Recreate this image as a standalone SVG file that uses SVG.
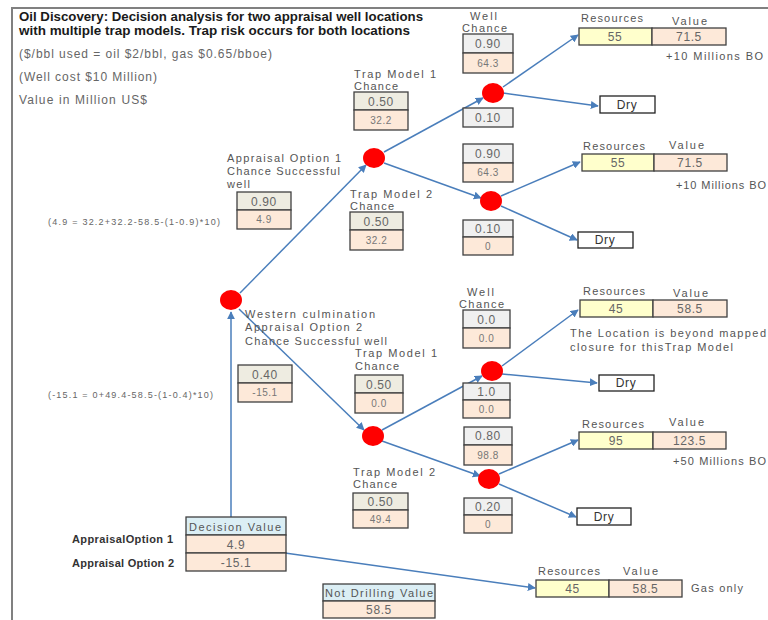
<svg xmlns="http://www.w3.org/2000/svg" width="768" height="620" viewBox="0 0 768 620">
<defs>
<marker id="ah" viewBox="0 0 10 10" refX="9" refY="5" markerWidth="8" markerHeight="8" markerUnits="userSpaceOnUse" orient="auto">
<path d="M0,0 L10,5 L0,10 z" fill="#4a7ebb"/>
</marker>
<style>
text{font-family:"Liberation Sans",Arial,sans-serif;}
.title{font-size:12px;font-weight:bold;fill:#1a1a1a;}
.sub{font-size:12px;fill:#666;}
.lbl{font-size:11px;fill:#555;}
.num{font-size:12px;fill:#666;text-anchor:middle;letter-spacing:0.6px;}
.sm{font-size:10px;fill:#777;text-anchor:middle;letter-spacing:0.5px;}
.fm{font-size:9px;fill:#666;}
.bl{font-size:11px;font-weight:bold;fill:#333;}
.g{fill:#eeece1;stroke:#404040;stroke-width:1.3;}
.w{fill:#f0f0f0;stroke:#404040;stroke-width:1.3;}
.p{fill:#fde9d9;stroke:#404040;stroke-width:1.3;}
.y{fill:#ffffcc;stroke:#404040;stroke-width:1.3;}
.b{fill:#dbeef4;stroke:#404040;stroke-width:1.3;}
.d{fill:#fff;stroke:#222;stroke-width:1.3;}
.node{fill:#ff0000;}
.c line{stroke:#4a7ebb;stroke-width:1.5;marker-end:url(#ah);}
</style>
</defs>
<rect width="768" height="620" fill="#fff"/>
<path d="M12,620 V8 H768" fill="none" stroke="#808080" stroke-width="2"/>

<g id="title">
<text class="title" x="19" y="21" textLength="404" lengthAdjust="spacingAndGlyphs">Oil Discovery: Decision analysis for two appraisal well locations</text>
<text class="title" x="19" y="35" textLength="391" lengthAdjust="spacingAndGlyphs">with multiple trap models. Trap risk occurs for both locations</text>
<text class="sub" x="19" y="58" textLength="253">($/bbl used = oil $2/bbl, gas $0.65/bboe)</text>
<text class="sub" x="19" y="81" textLength="138">(Well cost $10 Million)</text>
<text class="sub" x="19" y="104" textLength="128">Value in Million US$</text>
</g>

<g class="c" id="connectors">
<line x1="231" y1="517" x2="231" y2="312"/>
<line x1="240" y1="293" x2="366" y2="165"/>
<line x1="239" y1="309" x2="364" y2="430"/>
<line x1="384" y1="152" x2="483" y2="98"/>
<line x1="384" y1="163" x2="481" y2="198"/>
<line x1="503" y1="87" x2="578" y2="35"/>
<line x1="503" y1="93" x2="598" y2="106"/>
<line x1="501" y1="196" x2="580" y2="162"/>
<line x1="501" y1="206" x2="577" y2="240"/>
<line x1="382" y1="430" x2="482" y2="376"/>
<line x1="382" y1="441" x2="480" y2="476"/>
<line x1="502" y1="366" x2="578" y2="310"/>
<line x1="502" y1="374" x2="597" y2="383"/>
<line x1="499" y1="474" x2="578" y2="440"/>
<line x1="499" y1="484" x2="576" y2="517"/>
<line x1="285" y1="553" x2="535" y2="588"/>
</g>

<g id="root"><ellipse class="node" cx="231" cy="300" rx="11" ry="10"/></g>
<g id="opt1"><ellipse class="node" cx="374" cy="158" rx="11" ry="10"/></g>
<g id="opt1-tm1"><ellipse class="node" cx="493" cy="93" rx="11" ry="10"/></g>
<g id="opt1-tm2"><ellipse class="node" cx="491" cy="201" rx="11" ry="10"/></g>
<g id="opt2"><ellipse class="node" cx="373" cy="436" rx="11" ry="10"/></g>
<g id="opt2-tm1"><ellipse class="node" cx="492" cy="371" rx="11" ry="10"/></g>
<g id="opt2-tm2"><ellipse class="node" cx="489" cy="479" rx="11" ry="10"/></g>

<g id="appraisal1">
<text class="lbl" x="227" y="162" textLength="114">Appraisal Option 1</text>
<text class="lbl" x="227" y="175" textLength="113">Chance Successful</text>
<text class="lbl" x="227" y="188" textLength="23">well</text>
<rect class="g" x="237" y="192" width="54" height="18"/>
<rect class="p" x="237" y="210" width="54" height="19"/>
<text class="num" x="264" y="206">0.90</text>
<text class="sm" x="264" y="223">4.9</text>
<text class="fm" x="48" y="225" textLength="172">(4.9 = 32.2+32.2-58.5-(1-0.9)*10)</text>
</g>
<g id="tm1-a">
<text class="lbl" x="354" y="78" textLength="82">Trap Model 1</text>
<text class="lbl" x="354" y="90" textLength="44">Chance</text>
<rect class="g" x="354" y="92" width="54" height="18"/>
<rect class="p" x="354" y="110" width="54" height="20"/>
<text class="num" x="381" y="106">0.50</text>
<text class="sm" x="381" y="124">32.2</text>
</g>
<g id="tm2-a">
<text class="lbl" x="350" y="198" textLength="82">Trap Model 2</text>
<text class="lbl" x="350" y="210" textLength="44">Chance</text>
<rect class="g" x="350" y="212" width="53" height="18"/>
<rect class="p" x="350" y="230" width="53" height="20"/>
<text class="num" x="376.5" y="226">0.50</text>
<text class="sm" x="376.5" y="244">32.2</text>
</g>
<g id="wc1">
<text class="lbl" x="470" y="20" textLength="27">Well</text>
<text class="lbl" x="462" y="32" textLength="45">Chance</text>
<rect class="w" x="463" y="34" width="50" height="19"/>
<rect class="p" x="463" y="53" width="50" height="20"/>
<text class="num" x="488" y="48">0.90</text>
<text class="sm" x="488" y="67">64.3</text>
</g>
<g id="wc1-dry"><rect class="w" x="463" y="108" width="50" height="19"/><text class="num" x="488" y="122">0.10</text></g>
<g id="res1">
<text class="lbl" x="581" y="22" textLength="62">Resources</text>
<text class="lbl" x="672" y="25" textLength="35">Value</text>
<rect class="y" x="579" y="28" width="73" height="17"/>
<rect class="p" x="652" y="28" width="74" height="17"/>
<text class="num" x="615" y="41">55</text>
<text class="num" x="689" y="41">71.5</text>
<text class="lbl" x="666" y="60" textLength="97">+10 Millions BO</text>
</g>
<g id="dry1"><rect class="d" x="600" y="96" width="55" height="17"/><text class="num" x="627" y="109" style="fill:#333">Dry</text></g>
<g id="wc2">
<rect class="w" x="463" y="144" width="50" height="19"/>
<rect class="p" x="463" y="163" width="50" height="19"/>
<text class="num" x="488" y="158">0.90</text>
<text class="sm" x="488" y="176">64.3</text>
</g>
<g id="wc2-dry">
<rect class="w" x="463" y="220" width="50" height="17"/>
<rect class="p" x="463" y="237" width="50" height="18"/>
<text class="num" x="488" y="233">0.10</text>
<text class="sm" x="488" y="250">0</text>
</g>
<g id="res2">
<text class="lbl" x="583" y="150" textLength="62">Resources</text>
<text class="lbl" x="669" y="149" textLength="35">Value</text>
<rect class="y" x="582" y="154" width="72" height="17"/>
<rect class="p" x="654" y="154" width="73" height="17"/>
<text class="num" x="618" y="167">55</text>
<text class="num" x="690" y="167">71.5</text>
<text class="lbl" x="676" y="189" textLength="90">+10 Millions BO</text>
</g>
<g id="dry2"><rect class="d" x="578" y="232" width="55" height="16"/><text class="num" x="605" y="244" style="fill:#333">Dry</text></g>

<g id="appraisal2">
<text class="lbl" x="245" y="318" textLength="130">Western culmination</text>
<text class="lbl" x="245" y="331" textLength="117">Appraisal Option 2</text>
<text class="lbl" x="245" y="345" textLength="142">Chance Successful well</text>
<rect class="g" x="238" y="365" width="54" height="18"/>
<rect class="p" x="238" y="383" width="54" height="19"/>
<text class="num" x="265" y="379">0.40</text>
<text class="sm" x="265" y="396">-15.1</text>
<text class="fm" x="48" y="398" textLength="165">(-15.1 = 0+49.4-58.5-(1-0.4)*10)</text>
</g>
<g id="tm1-b">
<text class="lbl" x="355" y="357" textLength="82">Trap Model 1</text>
<text class="lbl" x="355" y="370" textLength="44">Chance</text>
<rect class="g" x="355" y="375" width="48" height="18"/>
<rect class="p" x="355" y="393" width="48" height="20"/>
<text class="num" x="379" y="389">0.50</text>
<text class="sm" x="379" y="407">0.0</text>
</g>
<g id="tm2-b">
<text class="lbl" x="353" y="476" textLength="82">Trap Model 2</text>
<text class="lbl" x="353" y="488" textLength="44">Chance</text>
<rect class="g" x="353" y="493" width="55" height="17"/>
<rect class="p" x="353" y="510" width="55" height="18"/>
<text class="num" x="380.5" y="506">0.50</text>
<text class="sm" x="380.5" y="523">49.4</text>
</g>
<g id="wc3">
<text class="lbl" x="467" y="296" textLength="27">Well</text>
<text class="lbl" x="459" y="308" textLength="45">Chance</text>
<rect class="w" x="463" y="310" width="47" height="18"/>
<rect class="p" x="463" y="328" width="47" height="20"/>
<text class="num" x="486.5" y="324">0.0</text>
<text class="sm" x="486.5" y="342">0.0</text>
</g>
<g id="wc3-dry">
<rect class="w" x="463" y="383" width="47" height="17"/>
<rect class="p" x="463" y="400" width="47" height="18"/>
<text class="num" x="486.5" y="396">1.0</text>
<text class="sm" x="486.5" y="413">0.0</text>
</g>
<g id="res3">
<text class="lbl" x="583" y="295" textLength="62">Resources</text>
<text class="lbl" x="673" y="297" textLength="35">Value</text>
<rect class="y" x="580" y="300" width="73" height="17"/>
<rect class="p" x="653" y="300" width="74" height="17"/>
<text class="num" x="616" y="313">45</text>
<text class="num" x="690" y="313">58.5</text>
<text class="lbl" x="570" y="337" textLength="196">The Location is beyond mapped</text>
<text class="lbl" x="570" y="351" textLength="163">closure for thisTrap Model</text>
</g>
<g id="dry3"><rect class="d" x="599" y="375" width="55" height="16"/><text class="num" x="626" y="387" style="fill:#333">Dry</text></g>
<g id="wc4">
<rect class="w" x="464" y="427" width="48" height="18"/>
<rect class="p" x="464" y="445" width="48" height="20"/>
<text class="num" x="488" y="440">0.80</text>
<text class="sm" x="488" y="459">98.8</text>
</g>
<g id="wc4-dry">
<rect class="w" x="464" y="498" width="48" height="17"/>
<rect class="p" x="464" y="515" width="48" height="18"/>
<text class="num" x="488" y="511">0.20</text>
<text class="sm" x="488" y="528">0</text>
</g>
<g id="res4">
<text class="lbl" x="582" y="428" textLength="62">Resources</text>
<text class="lbl" x="669" y="426" textLength="35">Value</text>
<rect class="y" x="579" y="432" width="74" height="17"/>
<rect class="p" x="653" y="432" width="73" height="17"/>
<text class="num" x="616" y="445">95</text>
<text class="num" x="689.5" y="445">123.5</text>
<text class="lbl" x="673" y="465" textLength="93">+50 Millions BO</text>
</g>
<g id="dry4"><rect class="d" x="577" y="508" width="54" height="17"/><text class="num" x="604" y="521" style="fill:#333">Dry</text></g>

<g id="decision">
<rect class="b" x="186" y="517" width="100" height="18"/>
<rect class="p" x="186" y="535" width="100" height="18"/>
<rect class="p" x="186" y="553" width="100" height="18"/>
<text class="lbl" x="189" y="531" textLength="92">Decision Value</text>
<text class="num" x="236" y="549">4.9</text>
<text class="num" x="236" y="567">-15.1</text>
<text class="bl" x="72" y="543" textLength="101">AppraisalOption 1</text>
<text class="bl" x="72" y="567" textLength="102">Appraisal Option 2</text>
</g>
<g id="notdrill">
<rect class="b" x="323" y="584" width="112" height="17"/>
<rect class="p" x="323" y="601" width="112" height="17"/>
<text class="lbl" x="325" y="597" textLength="108">Not Drilling Value</text>
<text class="num" x="379" y="614">58.5</text>
</g>
<g id="gas">
<text class="lbl" x="538" y="575" textLength="62">Resources</text>
<text class="lbl" x="623" y="575" textLength="35">Value</text>
<rect class="y" x="536" y="580" width="73" height="17"/>
<rect class="p" x="609" y="580" width="73" height="17"/>
<text class="num" x="572.5" y="593">45</text>
<text class="num" x="645.5" y="593">58.5</text>
<text class="lbl" x="691" y="592" textLength="52">Gas only</text>
</g>
</svg>
